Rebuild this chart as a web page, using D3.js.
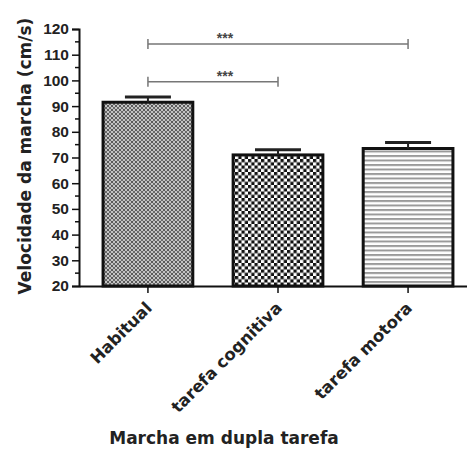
<!DOCTYPE html>
<html>
<head>
<meta charset="utf-8">
<script src="https://cdn.jsdelivr.net/npm/d3@7"></script>
<style>
  body { margin: 0; background: #fff; }
  text { font-family: "Liberation Sans", Arial, sans-serif; font-weight: bold; fill: #222; }
  .title, .xlab { font-family: "DejaVu Sans", sans-serif; }
</style>
</head>
<body>
<div id="chart"></div>
<script>
// data
var categories = ["Habitual", "tarefa cognitiva", "tarefa motora"];
var means = [91.5, 71, 73.5];
var errors = [2, 2, 2.3];
var yTicks = [20, 30, 40, 50, 60, 70, 80, 90, 100, 110, 120];
var brackets = [
  { from: "Habitual", to: "tarefa cognitiva", y: 99.5, label: "***" },
  { from: "Habitual", to: "tarefa motora", y: 114.2, label: "***" }
];

var svgWidth = 467;
var svgHeight = 450;
var margin = { top: 29, right: 0, bottom: 164, left: 79 };
var width = svgWidth - margin.left - margin.right;
var height = svgHeight - margin.top - margin.bottom;

var svg = d3.select("#chart")
  .append("svg")
  .attr("width", svgWidth)
  .attr("height", svgHeight);

// fill patterns
var defs = svg.append("defs");

var p1 = defs.append("pattern").attr("id", "pat0")
  .attr("patternUnits", "userSpaceOnUse").attr("width", 4).attr("height", 4);
p1.append("rect").attr("width", 4).attr("height", 4).attr("fill", "#c4c4c4");
p1.append("rect").attr("width", 2).attr("height", 2).attr("fill", "#5a5a5a");
p1.append("rect").attr("x", 2).attr("y", 2).attr("width", 2).attr("height", 2).attr("fill", "#6a6a6a");

var p2 = defs.append("pattern").attr("id", "pat1")
  .attr("patternUnits", "userSpaceOnUse").attr("width", 6.5).attr("height", 6.5);
p2.append("rect").attr("width", 6.5).attr("height", 6.5).attr("fill", "#fff");
p2.append("rect").attr("width", 3.25).attr("height", 3.25).attr("fill", "#111");
p2.append("rect").attr("x", 3.25).attr("y", 3.25).attr("width", 3.25).attr("height", 3.25).attr("fill", "#111");

var p3 = defs.append("pattern").attr("id", "pat2")
  .attr("patternUnits", "userSpaceOnUse").attr("width", 4).attr("height", 4.5);
p3.append("rect").attr("width", 4).attr("height", 4.5).attr("fill", "#fff");
p3.append("rect").attr("width", 4).attr("height", 2).attr("fill", "#9a9a9a");

var chartGroup = svg.append("g")
  .attr("transform", `translate(${margin.left}, ${margin.top})`);

// scales
var xScale = d3.scaleBand()
  .domain(categories)
  .range([0, 398])
  .paddingInner(0.31)
  .paddingOuter(0.185);

var yScale = d3.scaleLinear()
  .domain([20, 120])
  .range([height, 0]);

// bars
chartGroup.selectAll(".bar")
  .data(categories)
  .enter()
  .append("rect")
  .attr("class", "bar")
  .attr("x", d => xScale(d))
  .attr("y", (d, i) => yScale(means[i]))
  .attr("width", xScale.bandwidth())
  .attr("height", (d, i) => height - yScale(means[i]))
  .attr("fill", (d, i) => `url(#pat${i})`)
  .attr("stroke", "#111")
  .attr("stroke-width", 3);

// error bars (upper only, lower hidden in bar)
var errG = chartGroup.selectAll(".err")
  .data(categories)
  .enter()
  .append("g")
  .attr("class", "err");

errG.append("line")
  .attr("x1", d => xScale(d) + xScale.bandwidth() / 2)
  .attr("x2", d => xScale(d) + xScale.bandwidth() / 2)
  .attr("y1", (d, i) => yScale(means[i]))
  .attr("y2", (d, i) => yScale(means[i] + errors[i]))
  .attr("stroke", "#222")
  .attr("stroke-width", 2);

errG.append("line")
  .attr("x1", d => xScale(d) + xScale.bandwidth() / 2 - 23)
  .attr("x2", d => xScale(d) + xScale.bandwidth() / 2 + 23)
  .attr("y1", (d, i) => yScale(means[i] + errors[i]))
  .attr("y2", (d, i) => yScale(means[i] + errors[i]))
  .attr("stroke", "#222")
  .attr("stroke-width", 3);

// y axis
var yAxis = d3.axisLeft(yScale).tickValues(yTicks).tickSize(7).tickPadding(3);
var yG = chartGroup.append("g").call(yAxis);
yG.select(".domain").attr("stroke", "#111").attr("stroke-width", 2);
yG.selectAll(".tick line").attr("stroke", "#111").attr("stroke-width", 1.5);
yG.selectAll("text").attr("font-size", 15.5).attr("font-family", null).style("fill", "#222");

// minor ticks
chartGroup.selectAll(".minor")
  .data(d3.range(25, 120, 10))
  .enter()
  .append("line")
  .attr("x1", -4).attr("x2", 0)
  .attr("y1", d => yScale(d)).attr("y2", d => yScale(d))
  .attr("stroke", "#111").attr("stroke-width", 1.5);

// x axis
var xAxis = d3.axisBottom(xScale).tickSize(7).tickSizeOuter(0).tickFormat("");
var xG = chartGroup.append("g")
  .attr("transform", `translate(0, ${height})`)
  .call(xAxis);
xG.select(".domain").attr("stroke", "#111").attr("stroke-width", 2);
xG.selectAll(".tick line").attr("stroke", "#111").attr("stroke-width", 1.5);

// rotated category labels
chartGroup.selectAll(".xlab")
  .data(categories)
  .enter()
  .append("text")
  .attr("class", "xlab")
  .attr("transform", d => `translate(${xScale(d) + xScale.bandwidth() / 2 + 5}, ${height + 23}) rotate(-45)`)
  .attr("text-anchor", "end")
  .attr("font-size", 16.5)
  .text(d => d);

// significance brackets
var bG = chartGroup.selectAll(".bracket")
  .data(brackets)
  .enter()
  .append("g")
  .attr("class", "bracket");

bG.append("path")
  .attr("d", d => {
    var x1 = xScale(d.from) + xScale.bandwidth() / 2;
    var x2 = xScale(d.to) + xScale.bandwidth() / 2;
    var y = yScale(d.y);
    return `M${x1},${y - 5}V${y + 5}M${x1},${y}H${x2}M${x2},${y - 5}V${y + 5}`;
  })
  .attr("fill", "none")
  .attr("stroke", "#777")
  .attr("stroke-width", 1.5);

bG.append("text")
  .attr("x", d => xScale(d.from) + xScale.bandwidth() / 2 + 77)
  .attr("y", d => yScale(d.y) - 1)
  .attr("text-anchor", "middle")
  .attr("font-size", 14)
  .style("fill", "#444")
  .text(d => d.label);

// axis titles
svg.append("text")
  .attr("class", "title")
  .attr("transform", `translate(31, 156) rotate(-90)`)
  .attr("text-anchor", "middle")
  .attr("font-size", 17)
  .text("Velocidade da marcha (cm/s)");

svg.append("text")
  .attr("class", "title")
  .attr("x", 224)
  .attr("y", 444)
  .attr("text-anchor", "middle")
  .attr("font-size", 17)
  .text("Marcha em dupla tarefa");
</script>
</body>
</html>
